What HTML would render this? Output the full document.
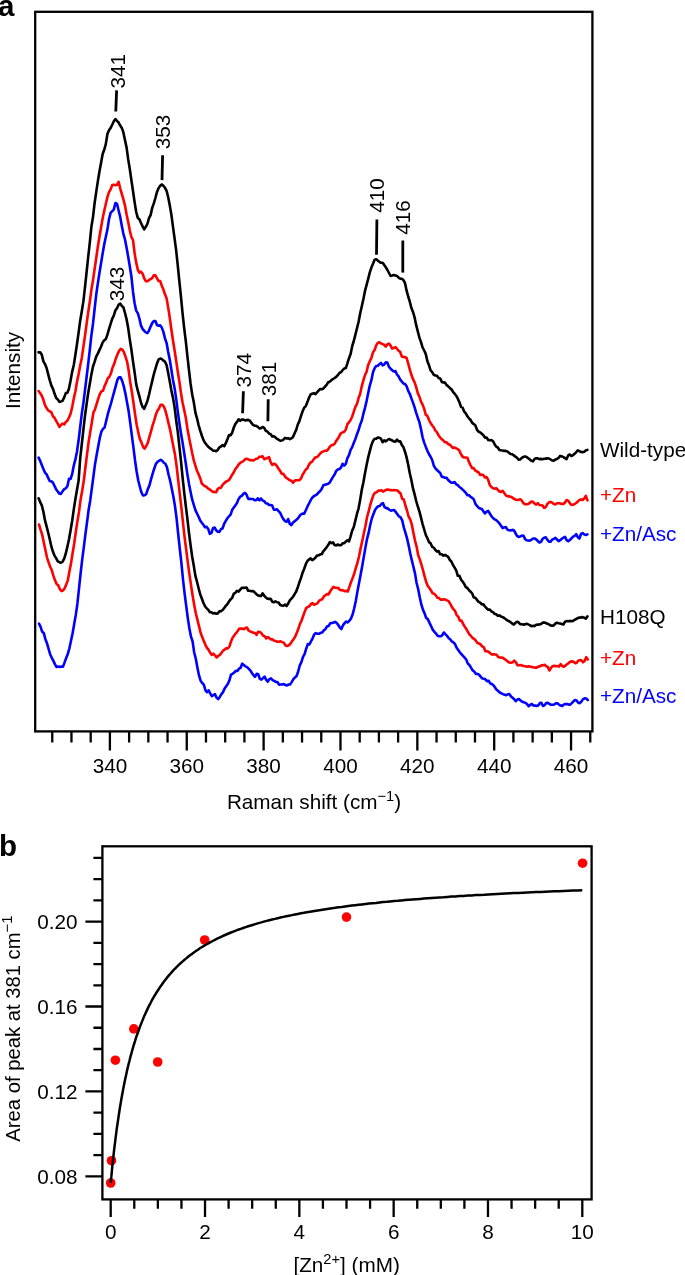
<!DOCTYPE html>
<html lang="en"><head><meta charset="utf-8"><title>Figure</title>
<style>html,body{margin:0;padding:0;background:#fff}body{width:685px;height:1275px;overflow:hidden}svg{display:block}text{font-family:"Liberation Sans",Arial,Helvetica,sans-serif;fill:#000}</style></head><body>
<svg width="685" height="1275" viewBox="0 0 685 1275">
<rect width="685" height="1275" fill="#fff"/>
<g fill="none" stroke="#000" stroke-width="2.3">
<rect x="35.2" y="11.8" width="557.20" height="719.60"/>
<path d="M52.26 731.4V742.6M71.47 731.4V742.6M90.69 731.4V742.6M109.90 731.4V750.6M129.12 731.4V742.6M148.33 731.4V742.6M167.55 731.4V742.6M186.76 731.4V750.6M205.98 731.4V742.6M225.19 731.4V742.6M244.41 731.4V742.6M263.62 731.4V750.6M282.84 731.4V742.6M302.05 731.4V742.6M321.26 731.4V742.6M340.48 731.4V750.6M359.69 731.4V742.6M378.91 731.4V742.6M398.12 731.4V742.6M417.34 731.4V750.6M436.55 731.4V742.6M455.77 731.4V742.6M474.99 731.4V742.6M494.20 731.4V750.6M513.41 731.4V742.6M532.63 731.4V742.6M551.85 731.4V742.6M571.06 731.4V750.6M590.27 731.4V742.6"/>
</g>
<text x="109.90" y="773" font-size="20.7" text-anchor="middle">340</text>
<text x="186.76" y="773" font-size="20.7" text-anchor="middle">360</text>
<text x="263.62" y="773" font-size="20.7" text-anchor="middle">380</text>
<text x="340.48" y="773" font-size="20.7" text-anchor="middle">400</text>
<text x="417.34" y="773" font-size="20.7" text-anchor="middle">420</text>
<text x="494.20" y="773" font-size="20.7" text-anchor="middle">440</text>
<text x="571.06" y="773" font-size="20.7" text-anchor="middle">460</text>
<text x="314" y="808.7" font-size="20.7" text-anchor="middle">Raman shift (cm<tspan dy="-8" font-size="14.7">−1</tspan><tspan dy="8">)</tspan></text>
<text transform="translate(20 370.4) rotate(-90)" font-size="20.7" text-anchor="middle">Intensity</text>
<text x="-2.1" y="16" font-size="29.5" font-weight="bold">a</text>
<path d="M38.6 352.4 40.2 352.2 41.8 354.8 43.4 361.4 45.0 364.1 46.6 368.0 48.2 374.4 49.8 380.4 51.4 385.6 53.0 388.9 54.6 393.8 56.2 398.0 57.8 399.4 59.4 401.9 61.0 401.4 62.6 400.8 64.2 397.4 65.8 393.1 67.4 392.8 69.0 388.5 70.6 380.6 72.2 371.6 73.8 365.0 75.4 354.8 77.0 344.0 78.6 332.6 80.2 320.7 81.8 311.3 83.4 301.4 85.0 287.1 86.6 272.2 88.2 256.9 89.8 242.6 91.4 226.7 93.0 217.1 94.6 203.2 96.2 192.1 97.8 181.6 99.4 171.7 101.0 163.2 102.6 154.2 104.2 149.8 105.8 144.1 107.4 134.1 109.0 130.3 110.6 128.0 112.2 124.7 113.8 121.2 115.4 119.0 117.0 120.9 118.6 122.5 120.2 125.6 121.8 127.9 123.4 132.4 125.0 140.3 126.6 147.6 128.2 159.4 129.8 169.0 131.4 180.2 133.0 191.0 134.6 202.1 136.2 212.0 137.8 217.9 139.4 219.2 141.0 223.0 142.6 226.4 144.2 229.3 145.8 226.8 147.4 223.9 149.0 218.2 150.6 215.1 152.2 207.9 153.8 203.4 155.4 198.0 157.0 191.9 158.6 188.1 160.2 185.7 161.8 184.4 163.4 185.8 165.0 187.8 166.6 190.8 168.2 197.2 169.8 205.6 171.4 214.9 173.0 226.8 174.6 238.6 176.2 250.7 177.8 265.9 179.4 281.7 181.0 297.2 182.6 313.6 184.2 328.4 185.8 341.2 187.4 356.1 189.0 370.4 190.6 383.9 192.2 394.5 193.8 402.3 195.4 412.6 197.0 418.3 198.6 425.1 200.2 430.6 201.8 435.5 203.4 439.9 205.0 442.8 206.6 444.8 208.2 446.7 209.8 448.1 211.4 449.1 213.0 450.7 214.6 450.8 216.2 451.1 217.8 449.9 219.4 447.3 221.0 446.5 222.6 445.0 224.2 446.3 225.8 443.2 227.4 439.3 229.0 435.1 230.6 435.2 232.2 432.7 233.8 427.5 235.4 423.9 237.0 421.9 238.6 419.3 240.2 420.8 241.8 419.6 243.4 419.5 245.0 420.5 246.6 420.1 248.2 419.9 249.8 420.6 251.4 422.9 253.0 424.8 254.6 425.7 256.2 425.8 257.8 426.8 259.4 428.4 261.0 428.1 262.6 427.0 264.2 427.9 265.8 430.8 267.4 431.5 269.0 433.5 270.6 434.1 272.2 436.4 273.8 436.3 275.4 437.4 277.0 438.8 278.6 439.7 280.2 440.8 281.8 440.4 283.4 439.7 285.0 437.9 286.6 438.5 288.2 438.2 289.8 439.2 291.4 438.3 293.0 437.1 294.6 433.3 296.2 429.9 297.8 424.5 299.4 421.1 301.0 415.9 302.6 411.3 304.2 407.7 305.8 406.1 307.4 402.1 309.0 397.8 310.6 394.5 312.2 393.7 313.8 393.1 315.4 394.1 317.0 392.3 318.6 390.6 320.2 389.0 321.8 389.2 323.4 388.5 325.0 386.7 326.6 384.9 328.2 382.3 329.8 381.7 331.4 380.1 333.0 379.0 334.6 378.0 336.2 376.9 337.8 375.2 339.4 373.0 341.0 372.2 342.6 370.2 344.2 368.6 345.8 368.1 347.4 363.4 349.0 358.2 350.6 354.0 352.2 346.2 353.8 341.0 355.4 334.6 357.0 328.2 358.6 321.8 360.2 313.3 361.8 306.2 363.4 299.0 365.0 290.9 366.6 284.8 368.2 278.8 369.8 272.4 371.4 267.6 373.0 263.8 374.6 259.8 376.2 259.3 377.8 260.6 379.4 261.8 381.0 262.8 382.6 262.8 384.2 264.9 385.8 267.2 387.4 270.0 389.0 273.0 390.6 276.0 392.2 275.6 393.8 275.1 395.4 275.5 397.0 275.9 398.6 277.7 400.2 278.6 401.8 278.8 403.4 280.1 405.0 283.0 406.6 290.7 408.2 296.5 409.8 301.7 411.4 308.0 413.0 311.9 414.6 317.4 416.2 325.2 417.8 331.3 419.4 337.6 421.0 342.1 422.6 347.5 424.2 350.5 425.8 354.1 427.4 361.3 429.0 365.3 430.6 370.3 432.2 372.1 433.8 374.8 435.4 375.5 437.0 375.7 438.6 377.9 440.2 378.4 441.8 381.9 443.4 382.4 445.0 382.6 446.6 385.1 448.2 386.3 449.8 387.9 451.4 389.3 453.0 391.8 454.6 393.7 456.2 395.7 457.8 398.6 459.4 402.2 461.0 406.9 462.6 407.6 464.2 411.7 465.8 413.3 467.4 416.3 469.0 418.3 470.6 420.0 472.2 422.9 473.8 424.1 475.4 425.5 477.0 429.8 478.6 431.7 480.2 432.4 481.8 433.7 483.4 435.2 485.0 437.6 486.6 437.5 488.2 440.0 489.8 440.3 491.4 440.0 493.0 441.2 494.6 444.2 496.2 446.6 497.8 447.5 499.4 450.0 501.0 450.3 502.6 450.5 504.2 450.9 505.8 450.9 507.4 451.4 509.0 452.9 510.6 454.0 512.2 454.2 513.8 455.4 515.4 456.6 517.0 457.7 518.6 459.7 520.2 459.5 521.8 457.9 523.4 457.0 525.0 456.4 526.6 457.0 528.2 458.2 529.8 459.4 531.4 460.8 533.0 461.4 534.6 458.9 536.2 458.2 537.8 458.4 539.4 459.2 541.0 458.9 542.6 459.2 544.2 458.8 545.8 458.6 547.4 458.4 549.0 458.5 550.6 459.5 552.2 460.5 553.8 460.6 555.4 459.5 557.0 459.0 558.6 457.8 560.2 455.9 561.8 456.3 563.4 457.1 565.0 458.1 566.6 459.1 568.2 455.4 569.8 454.5 571.4 456.0 573.0 455.2 574.6 453.8 576.2 452.2 577.8 450.4 579.4 451.2 581.0 452.0 582.6 452.1 584.2 451.8 585.8 450.5 587.4 449.9" fill="none" stroke="#000" stroke-width="2.6" stroke-linejoin="round" stroke-linecap="round"/>
<path d="M38.6 391.1 40.2 393.3 41.8 395.7 43.4 399.8 45.0 405.1 46.6 408.1 48.2 410.4 49.8 411.3 51.4 412.3 53.0 416.4 54.6 417.8 56.2 421.0 57.8 423.7 59.4 427.0 61.0 425.0 62.6 423.6 64.2 424.4 65.8 422.1 67.4 420.8 69.0 417.5 70.6 413.7 72.2 407.1 73.8 398.4 75.4 391.5 77.0 381.7 78.6 374.3 80.2 365.6 81.8 357.9 83.4 346.8 85.0 335.7 86.6 323.9 88.2 312.3 89.8 301.8 91.4 289.8 93.0 280.2 94.6 269.1 96.2 258.3 97.8 247.0 99.4 237.3 101.0 227.8 102.6 218.6 104.2 211.0 105.8 204.0 107.4 197.1 109.0 192.1 110.6 189.4 112.2 185.1 113.8 184.8 115.4 185.1 117.0 184.8 118.6 181.9 120.2 188.3 121.8 193.8 123.4 199.4 125.0 205.6 126.6 214.5 128.2 222.0 129.8 230.5 131.4 237.0 133.0 240.0 134.6 253.1 136.2 262.6 137.8 269.8 139.4 272.6 141.0 271.7 142.6 273.8 144.2 278.3 145.8 281.1 147.4 281.3 149.0 280.1 150.6 279.0 152.2 278.1 153.8 275.2 155.4 275.4 157.0 278.4 158.6 281.0 160.2 281.1 161.8 285.7 163.4 289.5 165.0 294.3 166.6 298.4 168.2 307.6 169.8 318.0 171.4 329.7 173.0 340.5 174.6 350.5 176.2 360.9 177.8 371.7 179.4 381.7 181.0 393.1 182.6 402.8 184.2 410.1 185.8 417.8 187.4 428.4 189.0 437.2 190.6 445.3 192.2 453.3 193.8 460.4 195.4 465.6 197.0 470.8 198.6 474.2 200.2 478.2 201.8 483.6 203.4 485.0 205.0 486.2 206.6 487.0 208.2 488.6 209.8 489.5 211.4 490.8 213.0 492.0 214.6 491.9 216.2 492.2 217.8 488.9 219.4 487.9 221.0 487.6 222.6 484.9 224.2 483.2 225.8 481.7 227.4 481.0 229.0 480.2 230.6 477.5 232.2 474.7 233.8 472.3 235.4 469.0 237.0 467.1 238.6 464.5 240.2 463.0 241.8 461.9 243.4 461.3 245.0 459.3 246.6 458.8 248.2 459.2 249.8 460.3 251.4 460.0 253.0 460.6 254.6 459.8 256.2 458.7 257.8 458.5 259.4 456.7 261.0 456.8 262.6 456.3 264.2 459.2 265.8 458.5 267.4 458.0 269.0 457.2 270.6 462.0 272.2 465.0 273.8 463.7 275.4 464.2 277.0 466.2 278.6 468.7 280.2 471.0 281.8 473.8 283.4 473.9 285.0 476.5 286.6 478.0 288.2 479.1 289.8 480.3 291.4 480.7 293.0 482.7 294.6 480.6 296.2 480.3 297.8 480.2 299.4 480.2 301.0 478.5 302.6 474.7 304.2 472.1 305.8 469.6 307.4 468.3 309.0 464.6 310.6 462.5 312.2 461.6 313.8 459.1 315.4 457.3 317.0 457.1 318.6 455.6 320.2 453.4 321.8 452.1 323.4 451.4 325.0 450.8 326.6 450.6 328.2 449.4 329.8 446.8 331.4 445.2 333.0 444.9 334.6 443.8 336.2 440.9 337.8 438.8 339.4 435.8 341.0 433.2 342.6 432.4 344.2 431.7 345.8 429.5 347.4 424.2 349.0 422.3 350.6 420.0 352.2 416.5 353.8 411.7 355.4 406.8 357.0 403.9 358.6 398.0 360.2 393.8 361.8 386.1 363.4 380.4 365.0 375.0 366.6 371.7 368.2 364.9 369.8 361.2 371.4 358.0 373.0 352.3 374.6 350.0 376.2 345.4 377.8 342.9 379.4 342.3 381.0 343.4 382.6 344.1 384.2 344.8 385.8 346.5 387.4 344.2 389.0 343.6 390.6 345.6 392.2 348.5 393.8 348.0 395.4 347.0 397.0 348.8 398.6 350.8 400.2 351.9 401.8 356.5 403.4 356.9 405.0 357.1 406.6 358.0 408.2 363.4 409.8 369.4 411.4 374.8 413.0 379.2 414.6 382.4 416.2 387.1 417.8 393.1 419.4 396.7 421.0 401.6 422.6 404.7 424.2 408.9 425.8 414.8 427.4 415.9 429.0 420.0 430.6 423.0 432.2 425.5 433.8 427.3 435.4 430.7 437.0 432.3 438.6 435.4 440.2 437.6 441.8 439.3 443.4 440.5 445.0 442.3 446.6 442.4 448.2 444.0 449.8 444.7 451.4 446.3 453.0 448.0 454.6 447.6 456.2 448.3 457.8 449.1 459.4 450.7 461.0 454.3 462.6 456.8 464.2 457.5 465.8 457.5 467.4 457.7 469.0 462.1 470.6 465.3 472.2 468.1 473.8 468.3 475.4 470.7 477.0 471.5 478.6 472.3 480.2 475.0 481.8 474.6 483.4 475.3 485.0 477.5 486.6 477.1 488.2 479.9 489.8 485.0 491.4 487.0 493.0 488.3 494.6 488.7 496.2 488.1 497.8 489.9 499.4 491.5 501.0 491.9 502.6 490.8 504.2 493.1 505.8 495.3 507.4 496.1 509.0 496.4 510.6 496.7 512.2 497.5 513.8 498.8 515.4 499.5 517.0 500.0 518.6 499.9 520.2 499.3 521.8 500.6 523.4 503.1 525.0 504.3 526.6 504.3 528.2 503.9 529.8 503.0 531.4 501.6 533.0 501.9 534.6 503.6 536.2 504.6 537.8 503.2 539.4 505.0 541.0 505.2 542.6 505.6 544.2 507.9 545.8 507.0 547.4 503.9 549.0 502.3 550.6 501.9 552.2 502.6 553.8 504.0 555.4 504.4 557.0 503.3 558.6 503.3 560.2 503.4 561.8 503.9 563.4 504.0 565.0 502.6 566.6 500.0 568.2 500.6 569.8 503.1 571.4 504.9 573.0 504.8 574.6 504.0 576.2 503.0 577.8 501.6 579.4 499.9 581.0 499.4 582.6 499.9 584.2 498.6 585.8 495.9 587.4 500.3" fill="none" stroke="#f00" stroke-width="2.6" stroke-linejoin="round" stroke-linecap="round"/>
<path d="M38.6 457.7 40.2 460.9 41.8 464.9 43.4 469.0 45.0 472.6 46.6 474.4 48.2 477.9 49.8 481.2 51.4 481.3 53.0 482.8 54.6 486.2 56.2 489.4 57.8 491.6 59.4 493.6 61.0 493.9 62.6 491.2 64.2 489.1 65.8 488.3 67.4 486.3 69.0 478.7 70.6 478.9 72.2 473.9 73.8 465.5 75.4 459.4 77.0 451.4 78.6 440.3 80.2 426.9 81.8 413.6 83.4 403.1 85.0 390.2 86.6 377.0 88.2 363.8 89.8 350.0 91.4 335.2 93.0 323.7 94.6 309.1 96.2 294.8 97.8 283.6 99.4 273.3 101.0 263.5 102.6 253.7 104.2 244.5 105.8 237.1 107.4 229.6 109.0 219.2 110.6 212.9 112.2 211.2 113.8 209.6 115.4 203.0 117.0 203.8 118.6 210.5 120.2 216.9 121.8 225.8 123.4 233.8 125.0 239.5 126.6 247.7 128.2 256.9 129.8 266.5 131.4 276.5 133.0 291.7 134.6 303.3 136.2 310.6 137.8 313.1 139.4 318.5 141.0 325.6 142.6 328.9 144.2 330.9 145.8 332.4 147.4 333.1 149.0 330.6 150.6 326.6 152.2 323.1 153.8 321.0 155.4 321.0 157.0 325.0 158.6 325.7 160.2 325.4 161.8 327.6 163.4 331.9 165.0 338.5 166.6 343.1 168.2 352.1 169.8 359.9 171.4 370.0 173.0 379.9 174.6 388.2 176.2 398.9 177.8 411.6 179.4 423.0 181.0 433.5 182.6 442.8 184.2 453.0 185.8 463.5 187.4 474.4 189.0 483.9 190.6 492.1 192.2 499.7 193.8 504.9 195.4 510.1 197.0 513.5 198.6 516.8 200.2 520.5 201.8 522.7 203.4 524.7 205.0 527.2 206.6 526.7 208.2 528.9 209.8 533.8 211.4 533.1 213.0 528.1 214.6 527.5 216.2 530.3 217.8 531.8 219.4 531.9 221.0 529.2 222.6 528.3 224.2 523.7 225.8 520.9 227.4 518.3 229.0 516.3 230.6 514.7 232.2 509.8 233.8 507.5 235.4 505.4 237.0 503.0 238.6 498.9 240.2 496.7 241.8 495.9 243.4 493.9 245.0 492.8 246.6 494.8 248.2 498.9 249.8 498.9 251.4 499.0 253.0 499.0 254.6 500.1 256.2 500.2 257.8 498.3 259.4 500.3 261.0 498.5 262.6 500.5 264.2 501.1 265.8 503.2 267.4 503.6 269.0 505.0 270.6 505.0 272.2 505.5 273.8 509.6 275.4 509.8 277.0 509.2 278.6 511.2 280.2 512.9 281.8 516.3 283.4 519.2 285.0 521.1 286.6 521.8 288.2 519.2 289.8 524.0 291.4 525.1 293.0 522.5 294.6 521.2 296.2 519.9 297.8 518.6 299.4 516.2 301.0 514.4 302.6 513.6 304.2 513.6 305.8 510.3 307.4 506.7 309.0 503.5 310.6 500.4 312.2 497.7 313.8 496.2 315.4 495.3 317.0 494.4 318.6 492.4 320.2 491.0 321.8 488.8 323.4 485.2 325.0 484.7 326.6 484.2 328.2 483.7 329.8 482.4 331.4 479.6 333.0 476.9 334.6 474.5 336.2 470.9 337.8 469.6 339.4 469.1 341.0 467.5 342.6 463.8 344.2 465.6 345.8 463.8 347.4 458.2 349.0 455.1 350.6 449.8 352.2 447.1 353.8 442.7 355.4 438.9 357.0 434.2 358.6 430.0 360.2 424.6 361.8 420.5 363.4 413.7 365.0 407.8 366.6 401.1 368.2 393.0 369.8 385.6 371.4 380.2 373.0 372.2 374.6 368.3 376.2 366.1 377.8 365.7 379.4 364.3 381.0 362.9 382.6 365.3 384.2 364.5 385.8 362.4 387.4 362.6 389.0 366.9 390.6 368.7 392.2 370.2 393.8 371.5 395.4 371.1 397.0 374.5 398.6 376.3 400.2 379.7 401.8 381.4 403.4 383.6 405.0 384.0 406.6 386.3 408.2 390.9 409.8 393.8 411.4 398.4 413.0 402.6 414.6 407.3 416.2 412.8 417.8 417.7 419.4 422.1 421.0 429.3 422.6 437.3 424.2 442.6 425.8 446.9 427.4 450.8 429.0 454.2 430.6 456.7 432.2 460.0 433.8 465.6 435.4 468.4 437.0 470.0 438.6 471.5 440.2 472.9 441.8 476.7 443.4 477.0 445.0 477.8 446.6 477.9 448.2 480.0 449.8 481.6 451.4 482.6 453.0 482.7 454.6 482.0 456.2 484.3 457.8 485.2 459.4 487.0 461.0 488.0 462.6 489.6 464.2 491.1 465.8 492.8 467.4 495.2 469.0 495.2 470.6 496.9 472.2 497.8 473.8 499.4 475.4 503.9 477.0 505.8 478.6 507.8 480.2 508.5 481.8 509.0 483.4 511.4 485.0 513.5 486.6 511.7 488.2 510.9 489.8 513.5 491.4 516.2 493.0 518.0 494.6 519.3 496.2 520.1 497.8 521.6 499.4 523.4 501.0 525.8 502.6 528.1 504.2 527.4 505.8 527.0 507.4 529.6 509.0 530.2 510.6 530.4 512.2 529.9 513.8 530.2 515.4 533.0 517.0 535.9 518.6 536.9 520.2 536.4 521.8 535.7 523.4 535.5 525.0 538.9 526.6 540.2 528.2 540.5 529.8 540.6 531.4 539.8 533.0 538.5 534.6 538.5 536.2 539.4 537.8 541.0 539.4 542.5 541.0 541.8 542.6 538.8 544.2 537.7 545.8 537.4 547.4 539.9 549.0 541.6 550.6 541.8 552.2 539.6 553.8 538.8 555.4 537.9 557.0 539.5 558.6 541.2 560.2 540.2 561.8 538.8 563.4 537.7 565.0 536.8 566.6 540.1 568.2 541.2 569.8 539.9 571.4 538.5 573.0 536.6 574.6 536.0 576.2 534.2 577.8 537.2 579.4 538.5 581.0 534.0 582.6 533.1 584.2 534.4 585.8 535.0 587.4 534.4" fill="none" stroke="#00f" stroke-width="2.6" stroke-linejoin="round" stroke-linecap="round"/>
<path d="M38.6 498.3 40.2 502.1 41.8 505.4 43.4 511.7 45.0 520.4 46.6 526.4 48.2 532.7 49.8 539.5 51.4 546.7 53.0 551.8 54.6 555.9 56.2 558.3 57.8 561.3 59.4 562.2 61.0 562.8 62.6 561.7 64.2 558.7 65.8 553.5 67.4 546.6 69.0 539.2 70.6 530.2 72.2 520.8 73.8 509.4 75.4 499.0 77.0 489.8 78.6 480.6 80.2 458.3 81.8 444.0 83.4 429.7 85.0 415.7 86.6 404.1 88.2 393.0 89.8 383.7 91.4 374.4 93.0 366.5 94.6 361.8 96.2 356.6 97.8 353.6 99.4 350.1 101.0 346.7 102.6 342.6 104.2 340.2 105.8 339.1 107.4 334.7 109.0 329.2 110.6 323.8 112.2 318.8 113.8 315.6 115.4 310.3 117.0 308.3 118.6 304.7 120.2 303.5 121.8 305.9 123.4 307.3 125.0 313.0 126.6 319.4 128.2 328.1 129.8 339.6 131.4 349.8 133.0 361.5 134.6 372.3 136.2 384.1 137.8 390.7 139.4 396.3 141.0 402.8 142.6 407.0 144.2 408.8 145.8 404.9 147.4 401.0 149.0 394.7 150.6 387.7 152.2 381.1 153.8 374.3 155.4 368.8 157.0 363.4 158.6 359.4 160.2 358.6 161.8 359.1 163.4 360.7 165.0 361.7 166.6 365.1 168.2 372.9 169.8 381.5 171.4 390.6 173.0 397.9 174.6 407.3 176.2 420.6 177.8 432.1 179.4 446.7 181.0 461.1 182.6 477.7 184.2 492.3 185.8 506.0 187.4 518.9 189.0 533.0 190.6 545.4 192.2 556.7 193.8 565.9 195.4 575.9 197.0 581.7 198.6 588.2 200.2 594.2 201.8 598.5 203.4 602.8 205.0 606.2 206.6 608.2 208.2 609.8 209.8 612.1 211.4 612.2 213.0 613.4 214.6 613.0 216.2 613.7 217.8 613.4 219.4 611.4 221.0 611.1 222.6 610.0 224.2 608.1 225.8 605.7 227.4 604.2 229.0 601.5 230.6 599.4 232.2 597.8 233.8 593.7 235.4 592.8 237.0 590.8 238.6 591.6 240.2 589.7 241.8 587.9 243.4 587.9 245.0 587.7 246.6 587.6 248.2 590.8 249.8 590.8 251.4 591.2 253.0 591.0 254.6 592.3 256.2 593.9 257.8 595.3 259.4 595.9 261.0 596.0 262.6 593.3 264.2 595.7 265.8 597.5 267.4 598.6 269.0 598.9 270.6 598.7 272.2 601.7 273.8 602.3 275.4 601.4 277.0 602.2 278.6 602.5 280.2 605.0 281.8 605.5 283.4 605.7 285.0 604.6 286.6 606.0 288.2 603.5 289.8 600.3 291.4 598.7 293.0 596.7 294.6 594.2 296.2 591.5 297.8 587.2 299.4 582.3 301.0 577.9 302.6 572.7 304.2 568.7 305.8 564.2 307.4 561.0 309.0 559.6 310.6 558.4 312.2 560.2 313.8 559.1 315.4 557.6 317.0 555.6 318.6 555.3 320.2 554.4 321.8 554.0 323.4 551.2 325.0 549.4 326.6 547.3 328.2 545.1 329.8 542.0 331.4 543.2 333.0 542.3 334.6 545.0 336.2 545.4 337.8 544.5 339.4 545.3 341.0 545.2 342.6 543.4 344.2 543.2 345.8 541.6 347.4 540.4 349.0 541.3 350.6 536.3 352.2 530.5 353.8 527.0 355.4 520.4 357.0 513.7 358.6 508.3 360.2 499.4 361.8 489.8 363.4 482.3 365.0 473.2 366.6 465.1 368.2 457.3 369.8 451.2 371.4 445.1 373.0 441.0 374.6 438.8 376.2 438.8 377.8 437.5 379.4 437.8 381.0 438.7 382.6 442.2 384.2 440.3 385.8 441.3 387.4 440.0 389.0 439.0 390.6 439.8 392.2 440.5 393.8 441.4 395.4 441.6 397.0 439.7 398.6 441.4 400.2 441.3 401.8 444.9 403.4 447.1 405.0 451.7 406.6 457.4 408.2 464.7 409.8 473.3 411.4 480.2 413.0 488.4 414.6 494.4 416.2 501.0 417.8 506.5 419.4 511.4 421.0 517.6 422.6 524.1 424.2 529.5 425.8 535.0 427.4 538.3 429.0 542.1 430.6 543.3 432.2 546.9 433.8 547.6 435.4 550.0 437.0 551.6 438.6 551.1 440.2 554.3 441.8 554.3 443.4 555.7 445.0 554.9 446.6 555.8 448.2 556.8 449.8 559.8 451.4 561.7 453.0 564.8 454.6 567.6 456.2 570.4 457.8 575.8 459.4 575.7 461.0 579.6 462.6 581.5 464.2 583.9 465.8 587.1 467.4 588.0 469.0 590.2 470.6 591.7 472.2 593.5 473.8 597.4 475.4 597.8 477.0 599.9 478.6 601.8 480.2 602.7 481.8 604.4 483.4 604.4 485.0 606.5 486.6 608.3 488.2 609.7 489.8 609.5 491.4 611.4 493.0 612.1 494.6 613.9 496.2 614.2 497.8 615.8 499.4 615.4 501.0 616.5 502.6 617.1 504.2 618.0 505.8 619.2 507.4 620.5 509.0 621.1 510.6 622.3 512.2 623.6 513.8 624.5 515.4 622.8 517.0 621.7 518.6 622.5 520.2 624.1 521.8 624.3 523.4 624.6 525.0 624.4 526.6 623.8 528.2 624.4 529.8 625.1 531.4 626.2 533.0 625.8 534.6 626.1 536.2 624.8 537.8 624.6 539.4 624.5 541.0 624.1 542.6 622.7 544.2 622.4 545.8 623.0 547.4 623.7 549.0 624.4 550.6 625.5 552.2 625.6 553.8 625.4 555.4 623.5 557.0 622.7 558.6 623.2 560.2 623.6 561.8 624.0 563.4 624.5 565.0 621.7 566.6 621.1 568.2 621.3 569.8 620.9 571.4 621.2 573.0 620.9 574.6 619.8 576.2 619.0 577.8 618.1 579.4 617.6 581.0 617.4 582.6 617.1 584.2 617.7 585.8 618.7 587.4 616.4" fill="none" stroke="#000" stroke-width="2.6" stroke-linejoin="round" stroke-linecap="round"/>
<path d="M39.0 524.5 40.6 529.8 42.2 534.7 43.8 542.6 45.4 550.0 47.0 557.6 48.6 562.3 50.2 566.8 51.8 570.3 53.4 575.6 55.0 580.3 56.6 583.9 58.2 585.2 59.8 588.9 61.4 591.1 63.0 590.6 64.6 588.4 66.2 584.5 67.8 580.4 69.4 571.6 71.0 563.6 72.6 553.2 74.2 543.5 75.8 532.0 77.4 521.5 79.0 511.9 80.6 499.4 82.2 490.7 83.8 480.6 85.4 467.5 87.0 454.6 88.6 442.0 90.2 432.2 91.8 422.8 93.4 412.5 95.0 409.4 96.6 404.1 98.2 398.8 99.8 394.1 101.4 391.3 103.0 390.8 104.6 385.9 106.2 382.6 107.8 378.2 109.4 376.7 111.0 373.2 112.6 367.5 114.2 363.9 115.8 358.7 117.4 354.5 119.0 351.1 120.6 348.9 122.2 349.4 123.8 352.0 125.4 356.3 127.0 361.3 128.6 370.1 130.2 382.0 131.8 391.5 133.4 402.2 135.0 413.8 136.6 424.3 138.2 432.0 139.8 438.9 141.4 442.4 143.0 446.6 144.6 448.6 146.2 446.0 147.8 442.9 149.4 436.8 151.0 431.3 152.6 425.4 154.2 420.7 155.8 414.9 157.4 410.8 159.0 408.6 160.6 404.8 162.2 404.7 163.8 406.6 165.4 410.6 167.0 416.7 168.6 423.6 170.2 430.1 171.8 438.6 173.4 446.7 175.0 454.6 176.6 466.1 178.2 480.1 179.8 494.2 181.4 507.8 183.0 522.6 184.6 537.3 186.2 549.7 187.8 562.3 189.4 574.2 191.0 584.9 192.6 595.5 194.2 604.8 195.8 613.2 197.4 619.6 199.0 626.1 200.6 632.8 202.2 637.1 203.8 640.9 205.4 644.8 207.0 647.9 208.6 649.9 210.2 652.8 211.8 654.9 213.4 653.7 215.0 655.4 216.6 657.5 218.2 656.0 219.8 654.9 221.4 653.0 223.0 650.6 224.6 649.7 226.2 648.3 227.8 648.5 229.4 646.5 231.0 641.5 232.6 637.7 234.2 635.5 235.8 633.3 237.4 631.5 239.0 628.8 240.6 628.5 242.2 628.6 243.8 629.2 245.4 628.1 247.0 627.6 248.6 630.5 250.2 631.5 251.8 632.0 253.4 632.7 255.0 633.0 256.6 634.8 258.2 631.7 259.8 632.0 261.4 633.1 263.0 635.5 264.6 636.2 266.2 638.4 267.8 637.1 269.4 638.2 271.0 639.4 272.6 639.4 274.2 640.7 275.8 641.1 277.4 641.8 279.0 641.6 280.6 641.3 282.2 642.1 283.8 642.7 285.4 645.4 287.0 645.9 288.6 645.5 290.2 644.0 291.8 641.6 293.4 639.4 295.0 637.0 296.6 633.2 298.2 629.3 299.8 624.4 301.4 621.0 303.0 616.5 304.6 611.9 306.2 608.1 307.8 606.9 309.4 606.2 311.0 604.0 312.6 603.1 314.2 604.8 315.8 604.0 317.4 603.4 319.0 600.9 320.6 599.9 322.2 599.2 323.8 596.6 325.4 595.2 327.0 594.1 328.6 594.4 330.2 591.3 331.8 589.0 333.4 586.9 335.0 587.6 336.6 588.0 338.2 587.9 339.8 590.0 341.4 590.1 343.0 590.4 344.6 591.1 346.2 590.9 347.8 591.5 349.4 586.9 351.0 582.3 352.6 578.1 354.2 573.7 355.8 568.1 357.4 563.0 359.0 556.5 360.6 548.4 362.2 541.2 363.8 533.5 365.4 526.3 367.0 517.5 368.6 511.7 370.2 505.0 371.8 499.9 373.4 495.1 375.0 492.7 376.6 492.3 378.2 490.6 379.8 490.8 381.4 490.1 383.0 491.6 384.6 490.7 386.2 489.8 387.8 489.5 389.4 490.0 391.0 490.1 392.6 490.2 394.2 490.1 395.8 490.2 397.4 490.5 399.0 492.0 400.6 493.5 402.2 499.0 403.8 499.5 405.4 505.5 407.0 510.5 408.6 516.5 410.2 519.4 411.8 524.4 413.4 532.8 415.0 540.6 416.6 546.6 418.2 555.3 419.8 559.4 421.4 564.5 423.0 570.2 424.6 576.3 426.2 582.0 427.8 586.0 429.4 588.0 431.0 590.5 432.6 593.3 434.2 593.8 435.8 595.4 437.4 597.8 439.0 598.0 440.6 599.6 442.2 599.6 443.8 599.3 445.4 599.6 447.0 600.4 448.6 601.2 450.2 603.6 451.8 606.8 453.4 609.2 455.0 610.8 456.6 615.1 458.2 616.6 459.8 620.6 461.4 620.5 463.0 623.6 464.6 626.6 466.2 628.8 467.8 631.6 469.4 634.4 471.0 636.0 472.6 638.0 474.2 638.8 475.8 640.6 477.4 643.0 479.0 643.5 480.6 644.4 482.2 646.4 483.8 647.2 485.4 651.2 487.0 651.2 488.6 651.8 490.2 653.3 491.8 654.4 493.4 654.3 495.0 654.4 496.6 654.8 498.2 657.0 499.8 657.5 501.4 657.6 503.0 657.8 504.6 659.2 506.2 660.1 507.8 661.6 509.4 662.5 511.0 662.7 512.6 662.3 514.2 660.6 515.8 662.1 517.4 665.1 519.0 665.3 520.6 665.1 522.2 665.6 523.8 666.0 525.4 666.3 527.0 666.7 528.6 666.2 530.2 666.8 531.8 666.9 533.4 667.3 535.0 667.6 536.6 667.6 538.2 666.6 539.8 666.4 541.4 665.4 543.0 665.3 544.6 664.8 546.2 666.2 547.8 666.9 549.4 670.5 551.0 667.9 552.6 666.2 554.2 665.7 555.8 666.2 557.4 666.1 559.0 666.6 560.6 664.2 562.2 666.0 563.8 666.8 565.4 665.6 567.0 664.3 568.6 663.1 570.2 661.7 571.8 661.4 573.4 661.6 575.0 663.2 576.6 662.9 578.2 660.7 579.8 660.1 581.4 660.2 583.0 662.3 584.6 661.0 586.2 657.2 587.8 659.4" fill="none" stroke="#f00" stroke-width="2.6" stroke-linejoin="round" stroke-linecap="round"/>
<path d="M39.0 623.6 40.6 626.8 42.2 631.8 43.8 633.1 45.4 639.2 47.0 643.3 48.6 648.9 50.2 654.5 51.8 657.8 53.4 660.9 55.0 664.4 56.6 667.0 58.2 666.6 59.8 667.0 61.4 666.5 63.0 666.6 64.6 662.4 66.2 657.9 67.8 653.9 69.4 648.3 71.0 640.8 72.6 633.2 74.2 624.1 75.8 614.9 77.4 603.7 79.0 588.6 80.6 573.5 82.2 559.7 83.8 547.4 85.4 534.3 87.0 522.5 88.6 510.0 90.2 500.7 91.8 488.7 93.4 476.7 95.0 464.4 96.6 455.2 98.2 446.6 99.8 437.9 101.4 431.6 103.0 428.8 104.6 427.5 106.2 420.9 107.8 414.2 109.4 408.6 111.0 403.4 112.6 397.5 114.2 391.7 115.8 385.8 117.4 379.8 119.0 377.2 120.6 377.3 122.2 381.0 123.8 386.4 125.4 393.6 127.0 402.2 128.6 410.9 130.2 422.6 131.8 435.1 133.4 447.1 135.0 460.2 136.6 471.2 138.2 480.2 139.8 486.5 141.4 492.4 143.0 495.5 144.6 495.2 146.2 494.1 147.8 489.1 149.4 485.6 151.0 479.4 152.6 473.8 154.2 468.7 155.8 464.1 157.4 461.9 159.0 460.8 160.6 459.9 162.2 460.7 163.8 462.7 165.4 463.8 167.0 467.4 168.6 474.7 170.2 481.0 171.8 488.7 173.4 496.7 175.0 506.2 176.6 518.5 178.2 534.0 179.8 548.9 181.4 562.8 183.0 579.5 184.6 593.3 186.2 605.8 187.8 618.1 189.4 628.4 191.0 636.7 192.6 641.5 194.2 652.5 195.8 658.8 197.4 667.5 199.0 675.4 200.6 680.7 202.2 683.0 203.8 684.6 205.4 690.1 207.0 692.2 208.6 690.3 210.2 693.4 211.8 696.1 213.4 695.1 215.0 694.2 216.6 697.7 218.2 699.1 219.8 696.9 221.4 694.2 223.0 692.1 224.6 688.6 226.2 686.3 227.8 684.0 229.4 680.4 231.0 674.6 232.6 673.8 234.2 672.5 235.8 670.9 237.4 670.9 239.0 668.7 240.6 667.8 242.2 663.7 243.8 665.0 245.4 666.3 247.0 667.1 248.6 668.6 250.2 670.3 251.8 672.8 253.4 675.1 255.0 676.8 256.6 673.8 258.2 674.3 259.8 678.7 261.4 679.6 263.0 678.1 264.6 676.7 266.2 679.8 267.8 681.6 269.4 679.1 271.0 678.4 272.6 680.1 274.2 680.9 275.8 681.9 277.4 682.0 279.0 684.6 280.6 684.5 282.2 684.5 283.8 684.1 285.4 685.0 287.0 685.4 288.6 684.5 290.2 684.4 291.8 681.9 293.4 679.1 295.0 677.4 296.6 676.0 298.2 671.5 299.8 665.3 301.4 662.1 303.0 656.9 304.6 654.2 306.2 648.7 307.8 644.1 309.4 644.5 311.0 641.4 312.6 638.3 314.2 634.4 315.8 633.1 317.4 633.7 319.0 633.8 320.6 632.8 322.2 632.5 323.8 630.4 325.4 629.2 327.0 626.5 328.6 626.0 330.2 623.3 331.8 622.9 333.4 622.7 335.0 621.9 336.6 622.9 338.2 624.8 339.8 627.5 341.4 629.0 343.0 625.2 344.6 623.1 346.2 621.5 347.8 622.5 349.4 620.7 351.0 618.5 352.6 614.6 354.2 608.2 355.8 601.0 357.4 591.6 359.0 583.2 360.6 574.7 362.2 566.3 363.8 556.9 365.4 547.6 367.0 539.1 368.6 532.9 370.2 525.0 371.8 518.5 373.4 514.2 375.0 510.0 376.6 507.8 378.2 506.3 379.8 505.9 381.4 504.0 383.0 503.1 384.6 507.2 386.2 508.1 387.8 508.4 389.4 509.8 391.0 510.6 392.6 510.3 394.2 510.0 395.8 512.1 397.4 514.2 399.0 516.4 400.6 517.3 402.2 520.3 403.8 527.4 405.4 532.7 407.0 538.1 408.6 545.3 410.2 553.3 411.8 560.2 413.4 566.8 415.0 573.4 416.6 583.0 418.2 589.2 419.8 597.5 421.4 604.7 423.0 609.9 424.6 613.4 426.2 618.0 427.8 619.1 429.4 622.6 431.0 625.8 432.6 629.5 434.2 631.6 435.8 633.3 437.4 635.6 439.0 636.2 440.6 636.3 442.2 635.4 443.8 632.5 445.4 634.2 447.0 635.8 448.6 638.1 450.2 639.2 451.8 641.4 453.4 642.3 455.0 644.0 456.6 647.8 458.2 649.9 459.8 652.2 461.4 654.2 463.0 655.9 464.6 657.6 466.2 659.5 467.8 663.6 469.4 665.0 471.0 667.7 472.6 670.4 474.2 671.5 475.8 673.9 477.4 673.8 479.0 674.7 480.6 676.6 482.2 678.5 483.8 678.7 485.4 679.3 487.0 681.1 488.6 680.8 490.2 683.4 491.8 683.9 493.4 685.3 495.0 687.4 496.6 689.7 498.2 691.0 499.8 692.5 501.4 693.3 503.0 694.1 504.6 694.8 506.2 695.2 507.8 694.3 509.4 694.1 511.0 696.5 512.6 697.7 514.2 699.2 515.8 701.2 517.4 699.6 519.0 699.1 520.6 700.4 522.2 701.7 523.8 702.3 525.4 702.9 527.0 704.0 528.6 706.1 530.2 704.9 531.8 704.0 533.4 705.5 535.0 705.6 536.6 705.9 538.2 705.5 539.8 703.1 541.4 702.9 543.0 706.0 544.6 705.2 546.2 703.0 547.8 702.8 549.4 703.8 551.0 704.8 552.6 704.8 554.2 704.5 555.8 703.4 557.4 703.3 559.0 704.6 560.6 705.6 562.2 706.0 563.8 704.6 565.4 704.0 567.0 704.1 568.6 704.6 570.2 704.6 571.8 703.1 573.4 701.4 575.0 700.0 576.6 700.4 578.2 702.8 579.8 703.2 581.4 701.6 583.0 699.1 584.6 698.3 586.2 698.6 587.8 700.0" fill="none" stroke="#00f" stroke-width="2.6" stroke-linejoin="round" stroke-linecap="round"/>
<text transform="translate(124.7 88.6) rotate(-90)" font-size="20.7">341</text>
<path d="M116.6 90.4L115.8 111.5" stroke="#000" stroke-width="2.8" fill="none"/>
<text transform="translate(170.3 149.2) rotate(-90)" font-size="20.7">353</text>
<path d="M162.6 155.3L162.0 180.1" stroke="#000" stroke-width="2.8" fill="none"/>
<text transform="translate(124.3 301.3) rotate(-90)" font-size="20.7">343</text>
<text transform="translate(250.7 387.6) rotate(-90)" font-size="20.7">374</text>
<path d="M243.4 391.3L242.6 413.2" stroke="#000" stroke-width="2.8" fill="none"/>
<text transform="translate(276.2 396.2) rotate(-90)" font-size="20.7">381</text>
<path d="M268.2 399.3L267.9 421.2" stroke="#000" stroke-width="2.8" fill="none"/>
<text transform="translate(383.8 212.8) rotate(-90)" font-size="20.7">410</text>
<path d="M376.9 219.6L376.5 254.7" stroke="#000" stroke-width="2.8" fill="none"/>
<text transform="translate(409.7 234.7) rotate(-90)" font-size="20.7">416</text>
<path d="M402.8 240.5L402.8 272.6" stroke="#000" stroke-width="2.8" fill="none"/>
<text x="600" y="457.4" font-size="20.7" style="fill:#000">Wild-type</text>
<text x="600" y="502.1" font-size="20.7" style="fill:#f00">+Zn</text>
<text x="600" y="540.8" font-size="20.7" style="fill:#00f">+Zn/Asc</text>
<text x="600" y="623.8" font-size="20.7" style="fill:#000">H108Q</text>
<text x="600" y="665.2" font-size="20.7" style="fill:#f00">+Zn</text>
<text x="600" y="702.8" font-size="20.7" style="fill:#00f">+Zn/Asc</text>
<g fill="none" stroke="#000" stroke-width="2.3">
<rect x="102.4" y="846.3" width="489.20" height="353.10"/>
<path d="M110.70 1199.4V1217.0M134.28 1199.4V1208.8M157.86 1199.4V1208.8M181.44 1199.4V1208.8M205.02 1199.4V1217.0M228.60 1199.4V1208.8M252.18 1199.4V1208.8M275.76 1199.4V1208.8M299.34 1199.4V1217.0M322.92 1199.4V1208.8M346.50 1199.4V1208.8M370.08 1199.4V1208.8M393.66 1199.4V1217.0M417.24 1199.4V1208.8M440.82 1199.4V1208.8M464.40 1199.4V1208.8M487.98 1199.4V1217.0M511.56 1199.4V1208.8M535.14 1199.4V1208.8M558.72 1199.4V1208.8M582.30 1199.4V1217.0M102.4 1176.36H85.4M102.4 1155.13H93.4M102.4 1133.90H93.4M102.4 1112.67H93.4M102.4 1091.44H85.4M102.4 1070.21H93.4M102.4 1048.98H93.4M102.4 1027.75H93.4M102.4 1006.52H85.4M102.4 985.29H93.4M102.4 964.06H93.4M102.4 942.83H93.4M102.4 921.60H85.4M102.4 900.37H93.4M102.4 879.14H93.4M102.4 857.91H93.4"/>
</g>
<text x="110.70" y="1239.4" font-size="20.7" text-anchor="middle">0</text>
<text x="205.02" y="1239.4" font-size="20.7" text-anchor="middle">2</text>
<text x="299.34" y="1239.4" font-size="20.7" text-anchor="middle">4</text>
<text x="393.66" y="1239.4" font-size="20.7" text-anchor="middle">6</text>
<text x="487.98" y="1239.4" font-size="20.7" text-anchor="middle">8</text>
<text x="582.30" y="1239.4" font-size="20.7" text-anchor="middle">10</text>
<text x="77.6" y="1183.66" font-size="20.7" text-anchor="end">0.08</text>
<text x="77.6" y="1098.74" font-size="20.7" text-anchor="end">0.12</text>
<text x="77.6" y="1013.82" font-size="20.7" text-anchor="end">0.16</text>
<text x="77.6" y="928.90" font-size="20.7" text-anchor="end">0.20</text>
<text x="346.6" y="1271.5" font-size="20.7" text-anchor="middle">[Zn<tspan dy="-8" font-size="14.7">2+</tspan><tspan dy="8">] (mM)</tspan></text>
<text transform="translate(19.5 1028.7) rotate(-90)" font-size="20.25" text-anchor="middle">Area of peak at 381 cm<tspan dy="-8" font-size="14.7">−1</tspan></text>
<text x="-0.9" y="856" font-size="29.5" font-weight="bold">b</text>
<circle cx="110.7" cy="1183" r="4.8" fill="#f00"/>
<circle cx="111.5" cy="1160.7" r="4.8" fill="#f00"/>
<circle cx="115.4" cy="1060.2" r="4.8" fill="#f00"/>
<circle cx="133.8" cy="1028.9" r="4.8" fill="#f00"/>
<circle cx="157.7" cy="1062.0" r="4.8" fill="#f00"/>
<circle cx="204.7" cy="940.0" r="4.8" fill="#f00"/>
<circle cx="346.5" cy="917.1" r="4.8" fill="#f00"/>
<circle cx="582.6" cy="863.2" r="4.8" fill="#f00"/>
<path d="M110.7 1182.9 L110.7 1182.8 L110.7 1182.4 L110.8 1181.8 L110.9 1180.9 L111.0 1179.8 L111.1 1178.4 L111.3 1176.9 L111.5 1175.0 L111.7 1173.0 L111.9 1170.8 L112.1 1168.3 L112.4 1165.7 L112.7 1162.9 L113.0 1160.0 L113.4 1156.8 L113.7 1153.6 L114.1 1150.2 L114.5 1146.7 L115.0 1143.1 L115.4 1139.4 L115.9 1135.6 L116.4 1131.7 L116.9 1127.8 L117.5 1123.9 L118.1 1119.9 L118.7 1115.8 L119.3 1111.8 L119.9 1107.7 L120.6 1103.6 L121.3 1099.5 L122.0 1095.5 L122.8 1091.4 L123.5 1087.4 L124.3 1083.4 L125.1 1079.5 L126.0 1075.5 L126.8 1071.7 L127.7 1067.8 L128.6 1064.0 L129.6 1060.3 L130.5 1056.6 L131.5 1053.0 L132.5 1049.4 L133.5 1045.9 L134.6 1042.5 L135.6 1039.1 L136.7 1035.7 L137.9 1032.5 L139.0 1029.3 L140.2 1026.1 L141.4 1023.1 L142.6 1020.1 L143.8 1017.1 L145.1 1014.2 L146.4 1011.4 L147.7 1008.6 L149.0 1005.9 L150.4 1003.3 L151.7 1000.7 L153.1 998.2 L154.6 995.7 L156.0 993.3 L157.5 991.0 L159.0 988.7 L160.5 986.4 L162.1 984.2 L163.6 982.1 L165.2 980.0 L166.8 977.9 L168.5 975.9 L170.1 974.0 L171.8 972.1 L173.5 970.2 L175.3 968.4 L177.0 966.6 L178.8 964.9 L180.6 963.2 L182.4 961.6 L184.3 960.0 L186.2 958.4 L188.1 956.8 L190.0 955.3 L191.9 953.9 L193.9 952.4 L195.9 951.0 L197.9 949.7 L199.9 948.3 L202.0 947.0 L204.1 945.8 L206.2 944.5 L208.3 943.3 L210.5 942.1 L212.7 941.0 L214.9 939.8 L217.1 938.7 L219.4 937.6 L221.6 936.6 L223.9 935.5 L226.3 934.5 L228.6 933.5 L231.0 932.5 L233.4 931.6 L235.8 930.7 L238.2 929.7 L240.7 928.9 L243.2 928.0 L245.7 927.1 L248.2 926.3 L250.8 925.5 L253.4 924.7 L256.0 923.9 L258.6 923.1 L261.2 922.4 L263.9 921.6 L266.6 920.9 L269.3 920.2 L272.1 919.5 L274.9 918.9 L277.7 918.2 L280.5 917.5 L283.3 916.9 L286.2 916.3 L289.1 915.7 L292.0 915.1 L294.9 914.5 L297.9 913.9 L300.9 913.3 L303.9 912.8 L306.9 912.2 L310.0 911.7 L313.0 911.2 L316.1 910.7 L319.3 910.2 L322.4 909.7 L325.6 909.2 L328.8 908.7 L332.0 908.2 L335.2 907.8 L338.5 907.3 L341.8 906.9 L345.1 906.4 L348.4 906.0 L351.8 905.6 L355.2 905.2 L358.6 904.8 L362.0 904.4 L365.5 904.0 L368.9 903.6 L372.4 903.2 L376.0 902.9 L379.5 902.5 L383.1 902.1 L386.7 901.8 L390.3 901.4 L394.0 901.1 L397.6 900.8 L401.3 900.4 L405.0 900.1 L408.8 899.8 L412.5 899.5 L416.3 899.2 L420.1 898.9 L423.9 898.6 L427.8 898.3 L431.7 898.0 L435.6 897.7 L439.5 897.4 L443.5 897.2 L447.4 896.9 L451.4 896.6 L455.5 896.4 L459.5 896.1 L463.6 895.9 L467.7 895.6 L471.8 895.4 L475.9 895.1 L480.1 894.9 L484.3 894.7 L488.5 894.4 L492.7 894.2 L497.0 894.0 L501.2 893.8 L505.5 893.5 L509.9 893.3 L514.2 893.1 L518.6 892.9 L523.0 892.7 L527.4 892.5 L531.9 892.3 L536.3 892.1 L540.8 891.9 L545.3 891.7 L549.9 891.5 L554.4 891.3 L559.0 891.2 L563.6 891.0 L568.3 890.8 L572.9 890.6 L577.6 890.5 L582.3 890.3" fill="none" stroke="#000" stroke-width="2.5" stroke-linejoin="round"/>
</svg></body></html>
